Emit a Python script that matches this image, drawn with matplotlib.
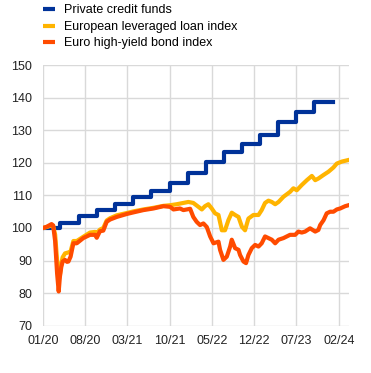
import pandas as pd
import matplotlib
matplotlib.use("Agg")
import matplotlib.pyplot as plt
import matplotlib.dates as mdates

plt.rcParams['font.family'] = ['Liberation Sans', 'DejaVu Sans']

# Fondos de crédito privado (valores trimestrales, índice 100 = 01/20)
pcf_dates = ["2020-01-01", "2020-03-27", "2020-06-30", "2020-09-30", "2020-12-31",
             "2021-03-31", "2021-06-30", "2021-09-30", "2021-12-31", "2022-03-31",
             "2022-06-30", "2022-09-30", "2022-12-31", "2023-03-31", "2023-06-30",
             "2023-09-30", "2024-01-05"]
pcf_values = [100.0, 101.6, 103.7, 105.5, 107.4, 109.4, 111.5, 113.8, 116.8, 120.3,
              123.4, 125.7, 128.6, 132.5, 135.6, 138.6, 138.6]

# Índice europeo de préstamos apalancados
lev_dates = ["2020-01-01", "2020-01-20", "2020-02-13", "2020-02-21", "2020-03-02",
             "2020-03-12", "2020-03-20", "2020-03-26", "2020-04-02", "2020-04-09",
             "2020-04-21", "2020-05-08", "2020-05-19", "2020-06-02", "2020-06-19",
             "2020-07-22", "2020-08-25", "2020-09-19", "2020-09-28", "2020-10-14",
             "2020-10-31", "2020-11-17", "2020-12-04", "2021-01-07", "2021-02-26",
             "2021-04-01", "2021-05-21", "2021-07-11", "2021-08-30", "2021-10-03",
             "2021-11-05", "2021-12-09", "2022-01-03", "2022-01-28", "2022-02-23",
             "2022-03-12", "2022-03-28", "2022-04-14", "2022-05-01", "2022-05-18",
             "2022-06-04", "2022-06-21", "2022-07-07", "2022-07-24", "2022-08-10",
             "2022-08-27", "2022-09-13", "2022-09-30", "2022-10-16", "2022-11-02",
             "2022-11-27", "2022-12-23", "2023-01-08", "2023-01-25", "2023-02-11",
             "2023-02-28", "2023-03-17", "2023-04-03", "2023-04-28", "2023-05-31",
             "2023-06-17", "2023-07-04", "2023-07-29", "2023-08-24", "2023-09-18",
             "2023-10-05", "2023-10-21", "2023-11-16", "2023-12-11", "2024-01-05",
             "2024-01-22", "2024-02-16", "2024-03-21"]
lev_values = [100.0, 100.3, 100.8, 100.6, 98.0,
              90.0, 84.0, 85.5, 89.0, 91.0,
              92.2, 92.5, 92.8, 96.0, 96.0,
              97.3, 98.6, 98.8, 98.4, 99.5,
              100.0, 102.3, 103.0, 103.9, 104.6,
              105.1, 105.7, 106.2, 106.8, 107.0,
              107.3, 107.7, 108.0, 107.7, 106.5,
              105.7, 106.7, 107.3, 106.0, 104.5,
              104.0, 99.3, 99.3, 102.4, 104.7,
              104.0, 103.4, 100.4, 99.3, 102.9,
              104.0, 104.0, 105.5, 107.7, 108.4,
              108.0, 107.3, 108.0, 109.6, 111.1,
              112.2, 111.6, 113.2, 114.7, 116.0,
              114.7, 115.2, 116.3, 117.3, 118.6,
              119.8, 120.4, 120.9]

# Índice de bonos de alto rendimiento en euros
hy_dates = ["2020-01-01", "2020-01-20", "2020-02-13", "2020-02-21", "2020-03-02",
            "2020-03-12", "2020-03-20", "2020-03-26", "2020-04-02", "2020-04-09",
            "2020-04-21", "2020-05-01", "2020-05-08", "2020-05-19", "2020-06-02",
            "2020-06-19", "2020-07-22", "2020-08-25", "2020-09-19", "2020-09-28",
            "2020-10-14", "2020-10-31", "2020-11-17", "2020-12-04", "2021-01-07",
            "2021-02-26", "2021-04-01", "2021-05-21", "2021-07-11", "2021-08-30",
            "2021-10-03", "2021-10-20", "2021-11-22", "2021-12-09", "2022-01-12",
            "2022-01-28", "2022-02-14", "2022-03-03", "2022-03-20", "2022-04-06",
            "2022-04-23", "2022-05-10", "2022-06-04", "2022-06-12", "2022-06-29",
            "2022-07-16", "2022-08-02", "2022-08-10", "2022-08-27", "2022-09-13",
            "2022-09-21", "2022-10-08", "2022-10-21", "2022-11-02", "2022-11-19",
            "2022-12-06", "2022-12-23", "2023-01-08", "2023-01-25", "2023-02-11",
            "2023-02-28", "2023-03-17", "2023-04-03", "2023-04-28", "2023-05-31",
            "2023-06-26", "2023-07-12", "2023-07-29", "2023-08-15", "2023-09-09",
            "2023-10-05", "2023-10-21", "2023-10-30", "2023-11-16", "2023-12-02",
            "2023-12-19", "2024-01-05", "2024-01-22", "2024-02-08", "2024-03-04",
            "2024-03-21"]
hy_values = [100.0, 100.4, 101.2, 100.8, 96.0,
             86.0, 80.5, 85.0, 88.0, 89.7,
             90.2, 89.6, 89.7, 91.2, 95.3,
             95.3, 96.9, 97.9, 97.9, 97.0,
             99.0, 99.2, 101.9, 102.6, 103.4,
             104.3, 104.8, 105.5, 106.0, 106.7,
             106.5, 105.7, 106.0, 105.5, 105.9,
             103.4, 101.9, 100.9, 101.4, 100.3,
             97.4, 95.3, 95.8, 93.3, 90.2,
             91.2, 94.3, 96.4, 93.8, 93.3,
             91.7, 89.7, 89.2, 91.7, 93.8,
             94.8, 94.3, 95.3, 97.4, 96.9,
             96.4, 95.3, 96.4, 96.9, 97.9,
             97.9, 98.9, 98.6, 98.9, 99.9,
             98.9, 99.4, 100.9, 102.4, 104.5,
             105.0, 105.0, 105.7, 106.0, 106.7,
             107.0]

labels = ["Private credit funds", "European leveraged loan index", "Euro high-yield bond index"]
colors = ["#003299", "#ffb400", "#ff4b00"]
tick_dates = ["2020-01-01", "2020-08-01", "2021-03-01", "2021-10-01",
              "2022-05-01", "2022-12-01", "2023-07-01", "2024-02-01"]

fig = plt.figure(figsize=(3.71, 3.73), dpi=100)
ax = fig.add_axes([0.116, 0.127, 0.825, 0.698])

ax.plot(pd.to_datetime(pcf_dates), pcf_values, color=colors[0], lw=3, drawstyle="steps-post",
        label=labels[0], solid_joinstyle="round")
ax.plot(pd.to_datetime(lev_dates), lev_values, color=colors[1], lw=3, label=labels[1],
        solid_joinstyle="round")
ax.plot(pd.to_datetime(hy_dates), hy_values, color=colors[2], lw=3, label=labels[2],
        solid_joinstyle="round")

ax.set_ylim(70, 150)
ax.set_yticks(range(70, 151, 10))
ax.set_xlim(pd.Timestamp("2020-01-01"), pd.Timestamp("2024-03-24"))
ax.set_xticks(pd.to_datetime(tick_dates))
ax.xaxis.set_major_formatter(mdates.DateFormatter("%m/%y"))
ax.grid(True, color="#d9d9d9", lw=1)
ax.set_axisbelow(True)
for s in ax.spines.values():
    s.set_visible(False)
ax.tick_params(length=0, labelsize=9, colors="#222222")
ax.tick_params(axis="x", pad=6.5)
ax.tick_params(axis="y", pad=8)

leg = fig.legend(loc="upper left", bbox_to_anchor=(0.116, 0.988), frameon=False, fontsize=9,
                 handlelength=0.95, handletextpad=0.75, labelspacing=0.36, borderpad=0,
                 borderaxespad=0)
for h in leg.get_lines():
    h.set_solid_capstyle("butt")
    h.set_linewidth(3)

fig.savefig("out.png", dpi=100)
